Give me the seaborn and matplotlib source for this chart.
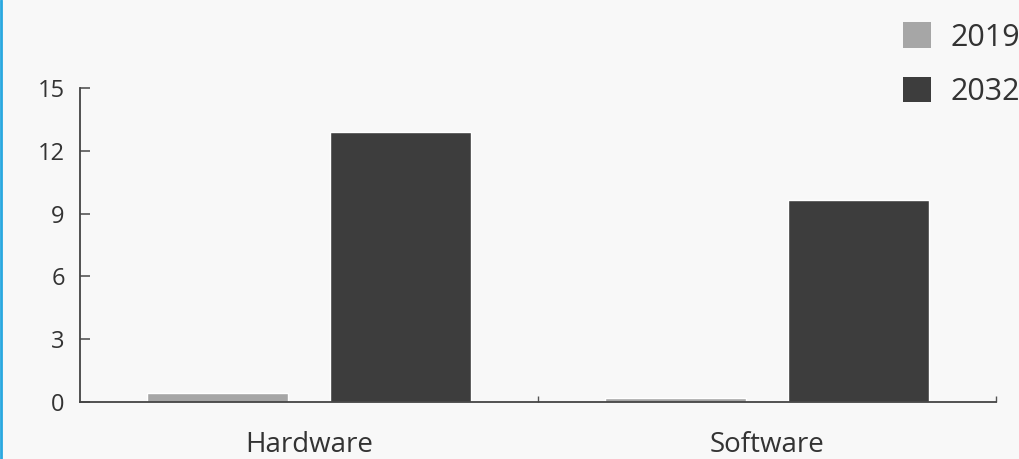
import pandas as pd
import numpy as np
import matplotlib.pyplot as plt
import seaborn as sns
from matplotlib.patches import Patch
from matplotlib.lines import Line2D

# Veri
categories = ['Hardware', 'Software']
years = ['2019', '2032']
values_2019 = [0.43, 0.2]
values_2032 = [12.9, 9.65]
yticks = [0, 3, 6, 9, 12, 15]

df = pd.DataFrame({
    'category': categories * 2,
    'year': [years[0]] * 2 + [years[1]] * 2,
    'value': values_2019 + values_2032,
})

palette = {'2019': '#a6a6a6', '2032': '#3d3d3d'}
text_color = '#333333'
bg = '#f8f8f8'

sns.set_style('white')
plt.rcParams['font.family'] = ['Open Sans', 'DejaVu Sans']

fig = plt.figure(figsize=(10.19, 4.59), dpi=100, facecolor=bg)
ax = fig.add_axes([80 / 1019, 1 - 402 / 459, 916 / 1019, 314 / 459])
ax.set_facecolor(bg)

sns.barplot(data=df, x='category', y='value', hue='year', palette=palette,
            width=0.8, gap=0.23, ax=ax, legend=False, saturation=1)

ax.set_xlim(-0.5, 1.5)
ax.set_ylim(0, 15)
ax.set_yticks(yticks)
ax.set_xlabel('')
ax.set_ylabel('')

for s in ['top', 'right']:
    ax.spines[s].set_visible(False)
for s in ['left', 'bottom']:
    ax.spines[s].set_color('#444444')
    ax.spines[s].set_linewidth(1.3)

ax.tick_params(axis='y', left=True, direction='in', length=7.5, width=1.2,
               color='#555555', labelsize=17, labelcolor=text_color, pad=11)
ax.tick_params(axis='x', which='major', length=0, labelsize=20,
               labelcolor=text_color, pad=21)
ax.set_xticks([0.5, 1.5], minor=True)
ax.tick_params(axis='x', which='minor', bottom=True, direction='in', length=4,
               width=1.0, color='#555555')

# legend sits at the top right edge, partly cut off like the original
handles = [Patch(facecolor=palette[y], edgecolor='none', label=y) for y in years]
fig.legend(handles=handles, loc='upper left', bbox_to_anchor=(0.859, 1.011),
           frameon=False, fontsize=22, labelcolor=text_color,
           handlelength=0.91, handleheight=0.91, handletextpad=0.65,
           labelspacing=0.78)

# blue border at left edge
fig.add_artist(Line2D([0.001, 0.001], [0, 1], color='#29a8e0', lw=2,
                      transform=fig.transFigure))

fig.savefig('out.png', dpi=100, facecolor=bg)
